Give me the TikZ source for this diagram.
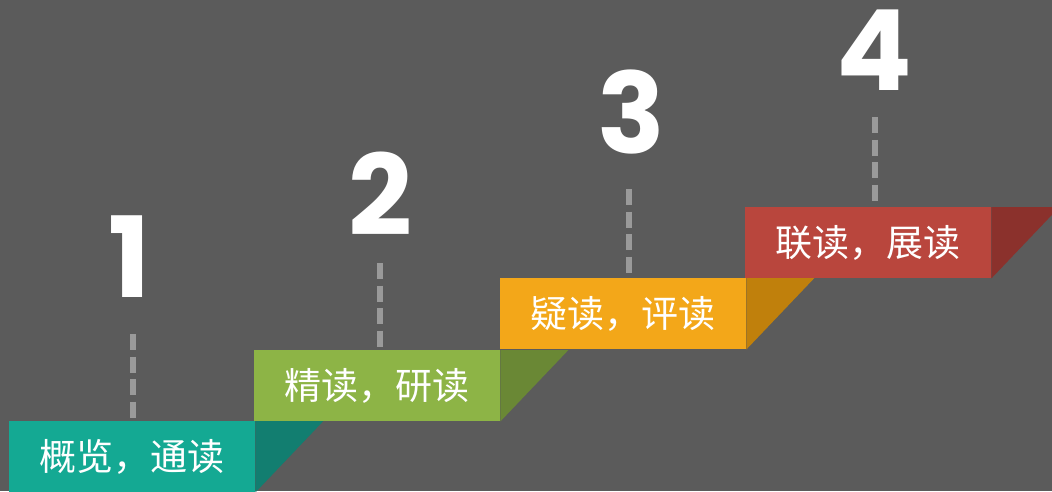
\documentclass[tikz,border=0pt]{standalone}
\usepackage{fontspec}
\usepackage{tikz}
\usetikzlibrary{calc}
\usetikzlibrary{positioning}
\newfontfamily\cjkfont{Noto Sans CJK SC}
\newfontfamily\numfont{Poppins}
\definecolor{bggray}{HTML}{5B5B5B}
\definecolor{dashgray}{HTML}{9A9A9A}
\definecolor{tealstep}{HTML}{14A993}
\definecolor{tealside}{HTML}{127E70}
\definecolor{greenstep}{HTML}{8DB446}
\definecolor{greenside}{HTML}{6A8835}
\definecolor{orangestep}{HTML}{F3A719}
\definecolor{orangeside}{HTML}{C0800C}
\definecolor{redstep}{HTML}{B9463D}
\definecolor{redside}{HTML}{8B312C}

\begin{document}
\begin{tikzpicture}[x=1pt,y=-1pt]
\tikzstyle{stepbox}=[rectangle,anchor=north west,inner sep=0pt,minimum width=246pt,minimum height=71pt,text=white,font=\cjkfont\fontsize{37}{40}\selectfont]
\tikzstyle{num}=[anchor=base,inner sep=0pt,text=white,font=\numfont\bfseries\fontsize{112}{112}\selectfont]
\tikzstyle{guide}=[draw=dashgray,line width=5.5pt,dash pattern=on 16pt off 6.5pt]
\useasboundingbox (0,0) rectangle (1052,491);
\fill[bggray] (0,0) rectangle (1052,491);
% steps
\node[stepbox,fill=tealstep] at(9,421) (s1) {概览，通读};
\node[stepbox,fill=greenstep] at(254,350) (s2) {精读，研读};
\node[stepbox,fill=orangestep] at(500,278) (s3) {疑读，评读};
\node[stepbox,fill=redstep] at(745,207) (s4) {联读，展读};
\fill[tealside] (s1.north east) -- ++(68,0) -- (s1.south east) -- cycle;
\fill[greenside] (s2.north east) -- ++(68,0) -- (s2.south east) -- cycle;
\fill[orangeside] (s3.north east) -- ++(68,0) -- (s3.south east) -- cycle;
\fill[redside] (s4.north east) -- ++(68,0) -- (s4.south east) -- cycle;
% dashed guides
\coordinate (d1) at (133,334);
\coordinate (d2) at (380,263);
\coordinate (d3) at (629,189);
\coordinate (d4) at (875,117);
\draw[guide] (d1) -- (d1 |- s1.north);
\draw[guide] (d2) -- (d2 |- s2.north);
\draw[guide] (d3) -- (d3 |- s3.north);
\draw[guide] (d4) -- (d4 |- s4.north);
% numbers
\node[num] at(130,297) (n1) {1};
\node[num] at(380,235) (n2) {2};
\node[num] at(631,153) (n3) {3};
\node[num] at(874,90) (n4) {4};
\end{tikzpicture}
\end{document}
